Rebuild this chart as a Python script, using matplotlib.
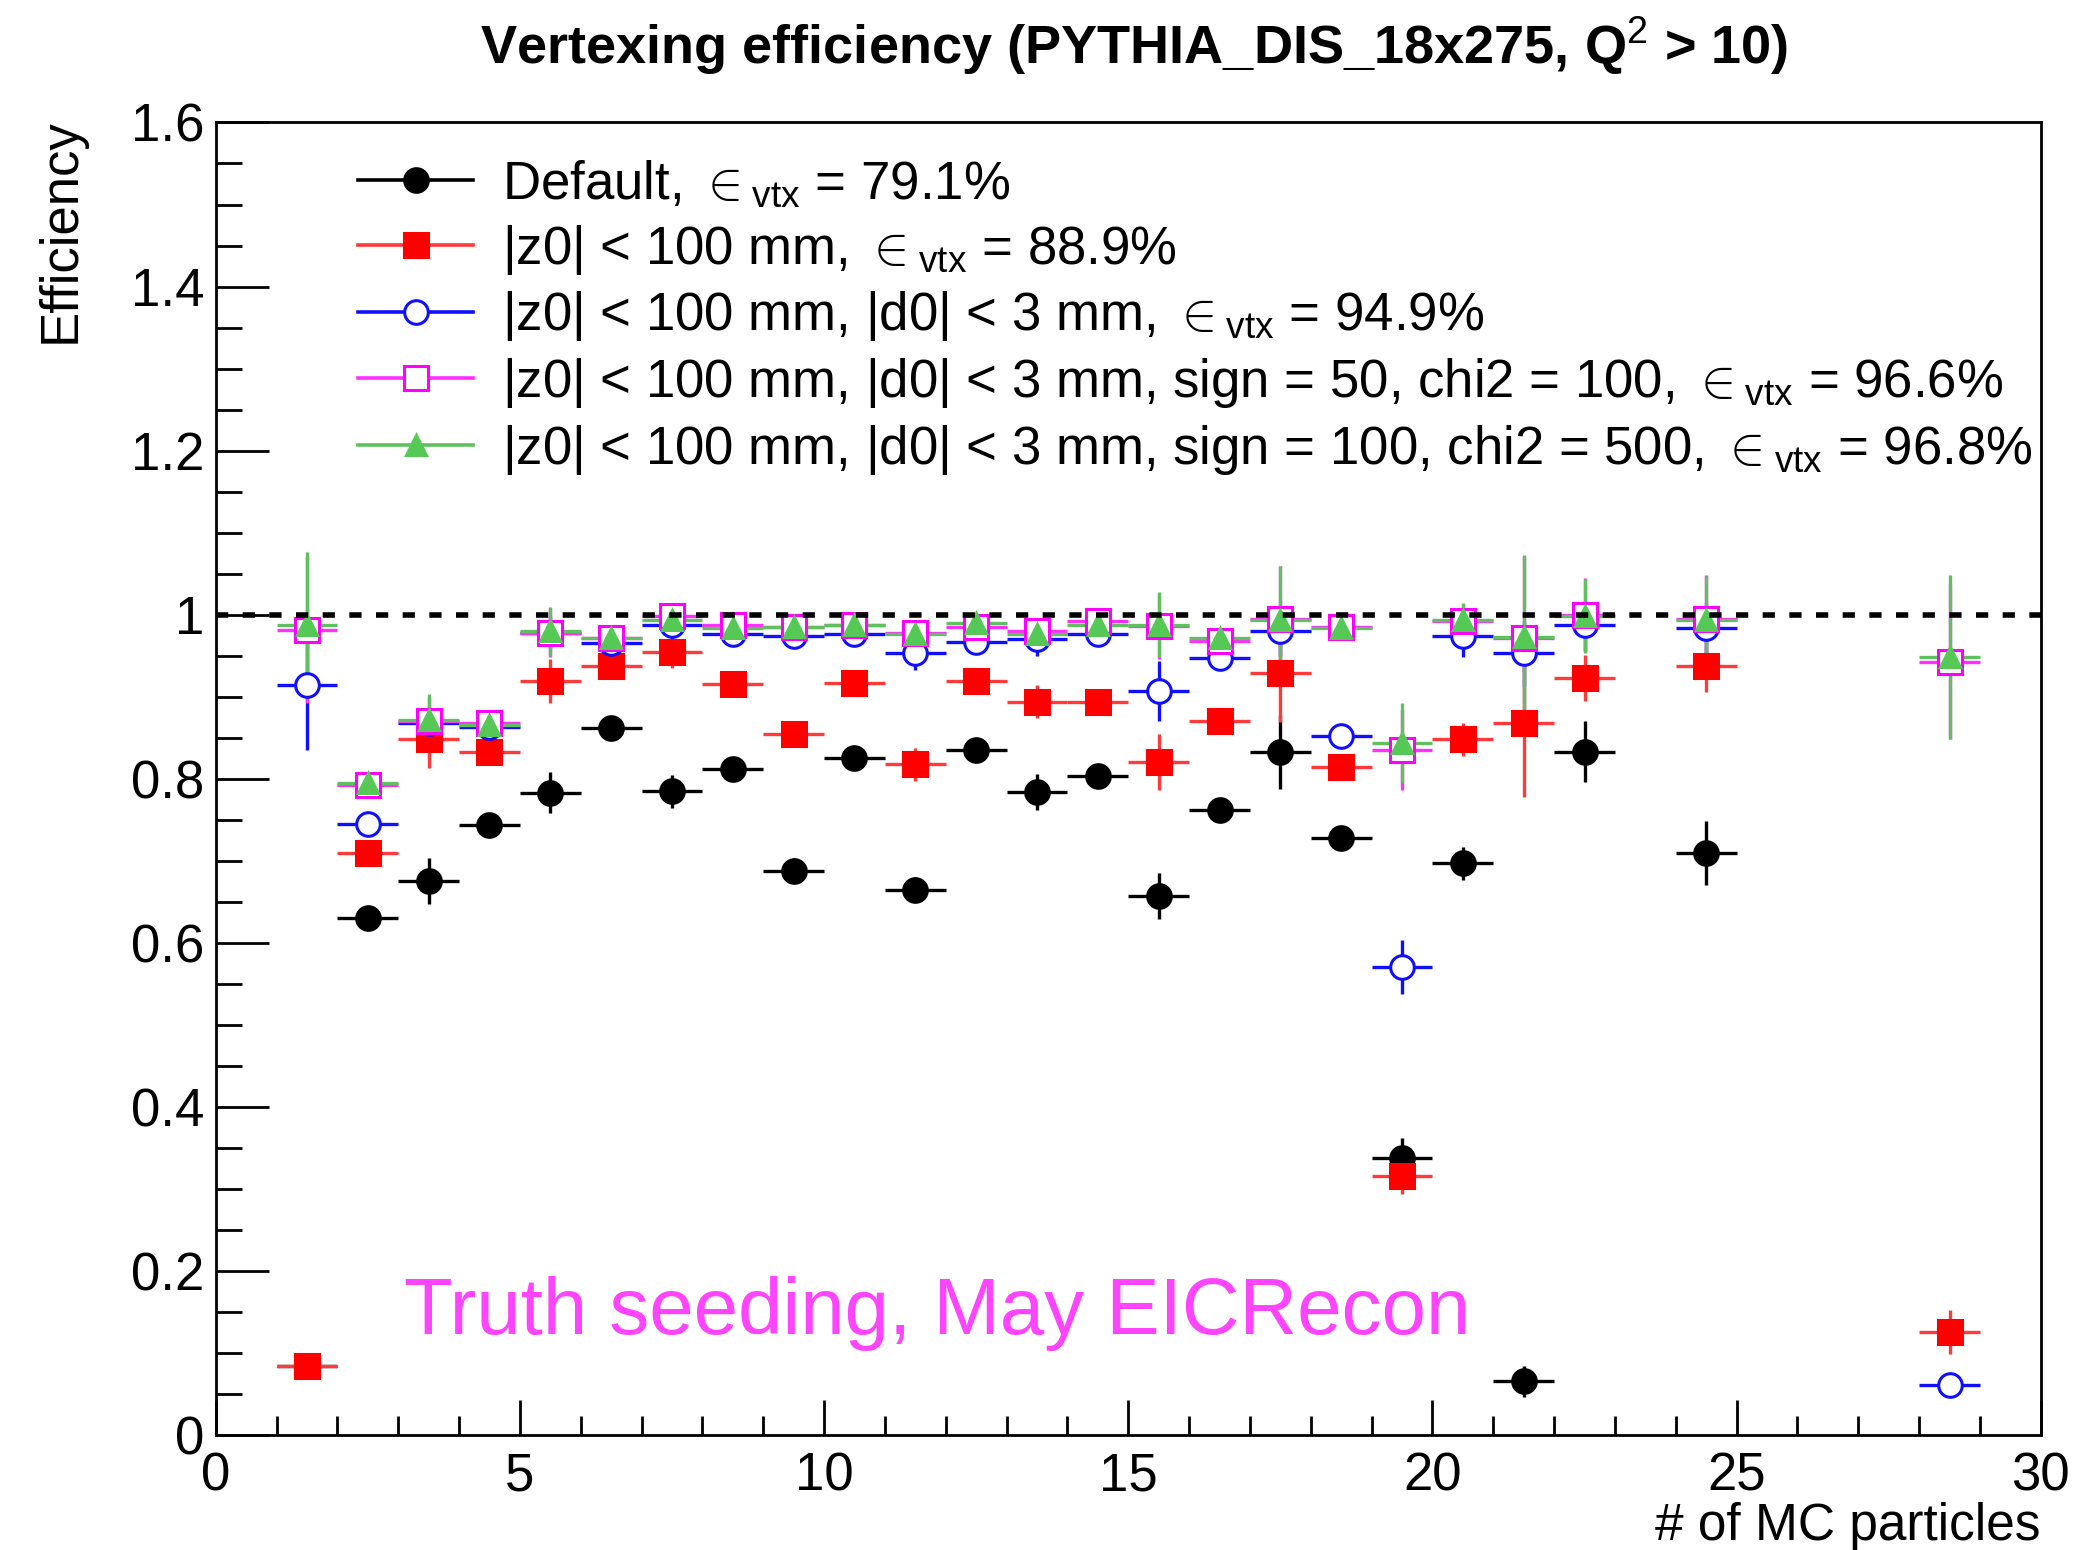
import numpy as np
import matplotlib
matplotlib.use('Agg')
import matplotlib.pyplot as plt
from matplotlib.lines import Line2D
from matplotlib.ticker import MultipleLocator, FuncFormatter

plt.rcParams['font.family'] = ['Liberation Sans', 'DejaVu Sans']
plt.rcParams['mathtext.fontset'] = 'custom'
plt.rcParams['mathtext.rm'] = 'Liberation Sans'
plt.rcParams['mathtext.it'] = 'Liberation Sans:italic'
plt.rcParams['mathtext.bf'] = 'Liberation Sans:bold'

# bin centres (# of MC particles), bin width 1
n_mc = [1.5, 2.5, 3.5, 4.5, 5.5, 6.5, 7.5, 8.5, 9.5, 10.5, 11.5, 12.5,
        13.5, 14.5, 15.5, 16.5, 17.5, 18.5, 19.5, 20.5, 21.5, 22.5, 24.5, 28.5]

eff_default = [0.085, 0.631, 0.675, 0.744, 0.783, 0.862, 0.785, 0.812, 0.688, 0.825, 0.665, 0.835,
               0.784, 0.804, 0.657, 0.762, 0.833, 0.728, 0.338, 0.697, 0.066, 0.833, 0.710, np.nan]
err_default = [0.012, 0.010, 0.028, 0.012, 0.025, 0.012, 0.020, 0.012, 0.015, 0.012, 0.015, 0.012,
               0.022, 0.012, 0.028, 0.012, 0.045, 0.015, 0.024, 0.020, 0.019, 0.037, 0.039, np.nan]

eff_z0 = [0.084, 0.710, 0.848, 0.833, 0.919, 0.937, 0.955, 0.916, 0.855, 0.917, 0.818, 0.919,
          0.894, 0.894, 0.821, 0.870, 0.929, 0.815, 0.316, 0.848, 0.868, 0.923, 0.937, 0.126]
err_z0 = [0.012, 0.010, 0.035, 0.012, 0.027, 0.012, 0.020, 0.010, 0.015, 0.010, 0.020, 0.010,
          0.020, 0.012, 0.034, 0.012, 0.060, 0.015, 0.022, 0.020, 0.090, 0.028, 0.031, 0.027]

eff_z0_d0 = [0.915, 0.745, 0.868, 0.863, 0.978, 0.966, 0.988, 0.976, 0.974, 0.976, 0.953, 0.967,
             0.970, 0.976, 0.907, 0.947, 0.980, 0.852, 0.571, 0.974, 0.953, 0.987, 0.984, 0.061]
err_z0_d0 = [0.080, 0.008, 0.020, 0.010, 0.020, 0.010, 0.020, 0.010, 0.015, 0.010, 0.020, 0.010,
             0.020, 0.010, 0.037, 0.010, 0.030, 0.012, 0.033, 0.025, 0.040, 0.030, 0.030, 0.010]

eff_sign50 = [0.982, 0.793, 0.870, 0.868, 0.978, 0.972, 0.998, 0.987, 0.985, 0.988, 0.978, 0.985,
              0.980, 0.993, 0.986, 0.968, 0.995, 0.985, 0.835, 0.993, 0.972, 1.000, 0.995, 0.943]
err_sign50 = [0.090, 0.008, 0.030, 0.010, 0.030, 0.010, 0.015, 0.010, 0.012, 0.010, 0.015, 0.010,
              0.015, 0.010, 0.040, 0.012, 0.065, 0.012, 0.049, 0.020, 0.100, 0.045, 0.053, 0.095]

eff_sign100 = [0.988, 0.795, 0.872, 0.866, 0.980, 0.972, 0.994, 0.984, 0.985, 0.988, 0.976, 0.990,
               0.976, 0.988, 0.988, 0.972, 0.994, 0.984, 0.844, 0.994, 0.973, 0.998, 0.994, 0.949]
err_sign100 = [0.088, 0.008, 0.032, 0.010, 0.030, 0.010, 0.015, 0.010, 0.012, 0.010, 0.015, 0.010,
               0.015, 0.010, 0.040, 0.012, 0.065, 0.012, 0.049, 0.020, 0.100, 0.045, 0.053, 0.100]

eps = r'${\in}_{\mathrm{vtx}}$'
labels = [
    'Default, ' + eps + ' = 79.1%',
    '|z0| < 100 mm, ' + eps + ' = 88.9%',
    '|z0| < 100 mm, |d0| < 3 mm, ' + eps + ' = 94.9%',
    '|z0| < 100 mm, |d0| < 3 mm, sign = 50, chi2 = 100, ' + eps + ' = 96.6%',
    '|z0| < 100 mm, |d0| < 3 mm, sign = 100, chi2 = 500, ' + eps + ' = 96.8%',
]

fig = plt.figure(figsize=(20.74, 15.5), dpi=100)
ax = fig.add_axes([0.104, 0.074, 0.880, 0.847])

series = [
    (eff_default, err_default, 'o', '#000000', '#000000', '#000000'),
    (eff_z0, err_z0, 's', '#ff0000', '#ff3a3a', '#ff0000'),
    (eff_z0_d0, err_z0_d0, 'o', '#1010ff', '#1010ff', 'white'),
    (eff_sign50, err_sign50, 's', '#ff00ff', '#ff30ff', 'white'),
    (eff_sign100, err_sign100, '^', '#55c855', '#60c060', '#55c855'),
]

handles = []
for (eff, err, mk, col, ecol, face), lab in zip(series, labels):
    ms = 17 if mk != '^' else 15
    ax.errorbar(n_mc, eff, xerr=0.5, yerr=err, fmt=mk, ms=ms,
                mfc=face, mec=col, mew=2.2, ecolor=ecol, elinewidth=2.4, capsize=0)
    handles.append(Line2D([], [], color=ecol, lw=2.6, marker=mk, ms=ms,
                          mfc=face, mec=col, mew=2.2, label=lab))

ax.axhline(1.0, color='k', lw=4.0, ls=(0, (2.2, 2.6)), zorder=5)

ax.text(3.09, 0.124, 'Truth seeding, May EICRecon', color='#ff44ff', fontsize=57.5,
        va='baseline')

ax.set_xlim(0, 30)
ax.set_ylim(0, 1.6)
ax.xaxis.set_major_locator(MultipleLocator(5))
ax.xaxis.set_minor_locator(MultipleLocator(1))
ax.yaxis.set_major_locator(MultipleLocator(0.2))
ax.yaxis.set_minor_locator(MultipleLocator(0.05))
ax.xaxis.set_major_formatter(FuncFormatter(lambda v, p: '%g' % v))
ax.yaxis.set_major_formatter(FuncFormatter(lambda v, p: '%g' % round(v, 2)))

ax.tick_params(axis='both', which='both', direction='in', width=2, labelsize=38,
               top=False, right=False)
ax.tick_params(axis='y', which='major', length=38, pad=8)
ax.tick_params(axis='y', which='minor', length=19)
ax.tick_params(axis='x', which='major', length=25, pad=12)
ax.tick_params(axis='x', which='minor', length=14)
for s in ax.spines.values():
    s.set_linewidth(2)

ax.set_ylabel('Efficiency', fontsize=38, loc='top')
ax.yaxis.set_label_coords(-0.071, 1.003)
ax.set_xlabel('# of MC particles', fontsize=37, loc='right')
ax.xaxis.set_label_coords(1.0, -0.051)

fig.text(0.547, 1 - 46 / 1550, r'Vertexing efficiency (PYTHIA_DIS_18x275, Q$^{2}$ > 10)',
         fontsize=39, fontweight='bold', ha='center', va='center')

ax.legend(handles=handles, loc='upper left', bbox_to_anchor=(0.078, 0.972), frameon=False,
          fontsize=38, handlelength=2.18, handletextpad=0.55, labelspacing=0.24,
          borderaxespad=0, borderpad=0)

fig.savefig('out.png', dpi=100)
